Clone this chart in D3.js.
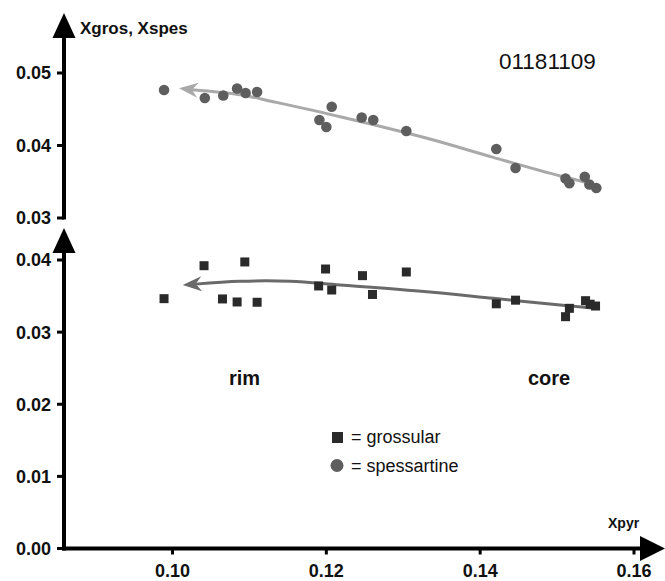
<!DOCTYPE html>
<html>
<head>
<meta charset="utf-8">
<script src="https://cdn.jsdelivr.net/npm/d3@7"></script>
<style>
  body { margin: 0; background: #fff; }
  svg { display: block; font-family: "Liberation Sans", Arial, sans-serif; }
</style>
</head>
<body>
<script>
// spessartine (upper panel), x = Xpyr
var spesX = [0.0989, 0.1042, 0.1066, 0.1084, 0.1095, 0.1110, 0.1191, 0.1200, 0.1207, 0.1246,
             0.1261, 0.1304, 0.1421, 0.1446, 0.1511, 0.1516, 0.1536, 0.1542, 0.1551];
var spesY = [0.04766, 0.04655, 0.04690, 0.04786, 0.04724, 0.04738, 0.04352, 0.04255, 0.04535, 0.04386,
             0.04352, 0.04200, 0.03952, 0.03690, 0.03545, 0.03479, 0.03570, 0.03462, 0.03414];

// grossular (lower panel)
var grosX = [0.0989, 0.1041, 0.1065, 0.1084, 0.1094, 0.1110, 0.1190, 0.1199, 0.1207, 0.1247,
             0.1260, 0.1304, 0.1421, 0.1446, 0.1511, 0.1516, 0.1537, 0.1543, 0.1550];
var grosY = [0.03464, 0.03921, 0.03460, 0.03418, 0.03973, 0.03414, 0.03640, 0.03875, 0.03584, 0.03783,
             0.03522, 0.03834, 0.03393, 0.03443, 0.03214, 0.03330, 0.03436, 0.03387, 0.03362];

// hand drawn trend curves (core -> rim)
var spesTrendX = [0.1543, 0.1504, 0.1417, 0.1331, 0.1218, 0.1131, 0.1088, 0.10085];
var spesTrendY = [0.03479, 0.03579, 0.03837, 0.04100, 0.04397, 0.04604, 0.04701, 0.04789];
var grosTrendX = [0.15455, 0.15039, 0.14172, 0.13306, 0.12178, 0.11528, 0.10878, 0.10133];
var grosTrendY = [0.03335, 0.03376, 0.03469, 0.03561, 0.03654, 0.03705, 0.03705, 0.03654];

var xTicks = [0.10, 0.12, 0.14, 0.16];
var upperTicks = [0.03, 0.04, 0.05];
var lowerTicks = [0.00, 0.01, 0.02, 0.03, 0.04];

var width = 665, height = 581;

var svg = d3.select("body").append("svg")
    .attr("width", width)
    .attr("height", height);

var x = d3.scaleLinear().domain([0.10, 0.16]).range([172.5, 634]);
var yUp = d3.scaleLinear().domain([0.03, 0.05]).range([218, 73]);
var yLo = d3.scaleLinear().domain([0, 0.04]).range([548.5, 260]);

var axisX = 64, axisY = 548.5;
var fmt = d3.format(".2f");

// axis lines
svg.append("line").attr("x1", axisX).attr("x2", axisX)
    .attr("y1", 219.5).attr("y2", 36)
    .attr("stroke", "#000").attr("stroke-width", 4);
svg.append("line").attr("x1", axisX).attr("x2", axisX)
    .attr("y1", axisY + 2).attr("y2", 250)
    .attr("stroke", "#000").attr("stroke-width", 4);
svg.append("line").attr("x1", axisX - 2).attr("x2", 642)
    .attr("y1", axisY).attr("y2", axisY)
    .attr("stroke", "#000").attr("stroke-width", 4);

// big axis arrowheads
function upArrow(tipY) {
    return "M" + axisX + "," + tipY + "L" + (axisX + 11.5) + "," + (tipY + 25) +
        "L" + (axisX - 11.5) + "," + (tipY + 25) + "Z";
}
svg.append("path").attr("d", upArrow(13)).attr("fill", "#000");
svg.append("path").attr("d", upArrow(228)).attr("fill", "#000");
svg.append("path")
    .attr("d", "M665," + axisY + "L640," + (axisY - 12.5) + "L640," + (axisY + 12.5) + "Z")
    .attr("fill", "#000");

// y ticks + labels
function yTicks(scale, vals) {
    var g = svg.append("g");
    g.selectAll("line").data(vals).enter().append("line")
        .attr("x1", axisX - 7).attr("x2", axisX)
        .attr("y1", d => scale(d)).attr("y2", d => scale(d))
        .attr("stroke", "#000").attr("stroke-width", 3);
    g.selectAll("text").data(vals).enter().append("text")
        .attr("x", 51).attr("y", d => scale(d)).attr("dy", "0.36em")
        .attr("text-anchor", "end")
        .attr("font-size", 18).attr("font-weight", "bold").attr("fill", "#111")
        .text(d => fmt(d));
}
yTicks(yUp, upperTicks);
yTicks(yLo, lowerTicks);

// x ticks + labels
var xg = svg.append("g");
xg.selectAll("line").data(xTicks).enter().append("line")
    .attr("x1", d => x(d)).attr("x2", d => x(d))
    .attr("y1", axisY).attr("y2", axisY + 6)
    .attr("stroke", "#000").attr("stroke-width", 3);
xg.selectAll("text").data(xTicks).enter().append("text")
    .attr("x", d => x(d)).attr("y", 577)
    .attr("text-anchor", "middle")
    .attr("font-size", 18).attr("font-weight", "bold").attr("fill", "#111")
    .text(d => fmt(d));

// trend curves with arrowheads at the rim end
function trend(xs, ys, yScale, color) {
    var pts = xs.map((d, i) => [x(d), yScale(ys[i])]);
    var n = pts.length;
    var tip = pts[n - 1], prev = pts[n - 2];
    var ang = Math.atan2(tip[1] - prev[1], tip[0] - prev[0]);
    var len = 19, half = 7.5, notch = 13;
    var ca = Math.cos(ang), sa = Math.sin(ang);
    function p(a, b) { return [tip[0] - a * ca - b * -sa, tip[1] - a * sa - b * ca]; }
    var line = d3.line().curve(d3.curveCatmullRom);
    var body = pts.slice(0, n - 1).concat([p(notch, 0)]);
    svg.append("path").attr("d", line(body))
        .attr("fill", "none").attr("stroke", color).attr("stroke-width", 3);
    var b1 = p(len, half), b2 = p(len, -half), nn = p(notch, 0);
    svg.append("path")
        .attr("d", "M" + tip + "L" + b1 + "L" + nn + "L" + b2 + "Z")
        .attr("fill", color);
}
trend(spesTrendX, spesTrendY, yUp, "#a9a9a9");
trend(grosTrendX, grosTrendY, yLo, "#6a6a6a");

// points
svg.append("g").selectAll("circle").data(spesX).enter().append("circle")
    .attr("cx", d => x(d)).attr("cy", (d, i) => yUp(spesY[i]))
    .attr("r", 5.3).attr("fill", "#5e5e5e");
svg.append("g").selectAll("rect").data(grosX).enter().append("rect")
    .attr("x", d => x(d) - 4.5).attr("y", (d, i) => yLo(grosY[i]) - 4.5)
    .attr("width", 9).attr("height", 9).attr("fill", "#2a2a2a");

// texts
function label(tx, ty, s, size, bold) {
    svg.append("text").attr("x", tx).attr("y", ty)
        .attr("font-size", size).attr("font-weight", bold ? "bold" : "normal")
        .attr("fill", "#111").text(s);
}
label(80, 34, "Xgros, Xspes", 17, true);
label(499, 69, "01181109", 22.5, false);
label(229, 385, "rim", 20, true);
label(528, 385, "core", 20, true);
label(608, 528, "Xpyr", 14, true);

// legend
svg.append("rect").attr("x", 332).attr("y", 432).attr("width", 11).attr("height", 11).attr("fill", "#2a2a2a");
label(351, 443, "= grossular", 18, false);
svg.append("circle").attr("cx", 337).attr("cy", 465.5).attr("r", 6.5).attr("fill", "#5e5e5e");
label(351, 472, "= spessartine", 18, false);
</script>
</body>
</html>
